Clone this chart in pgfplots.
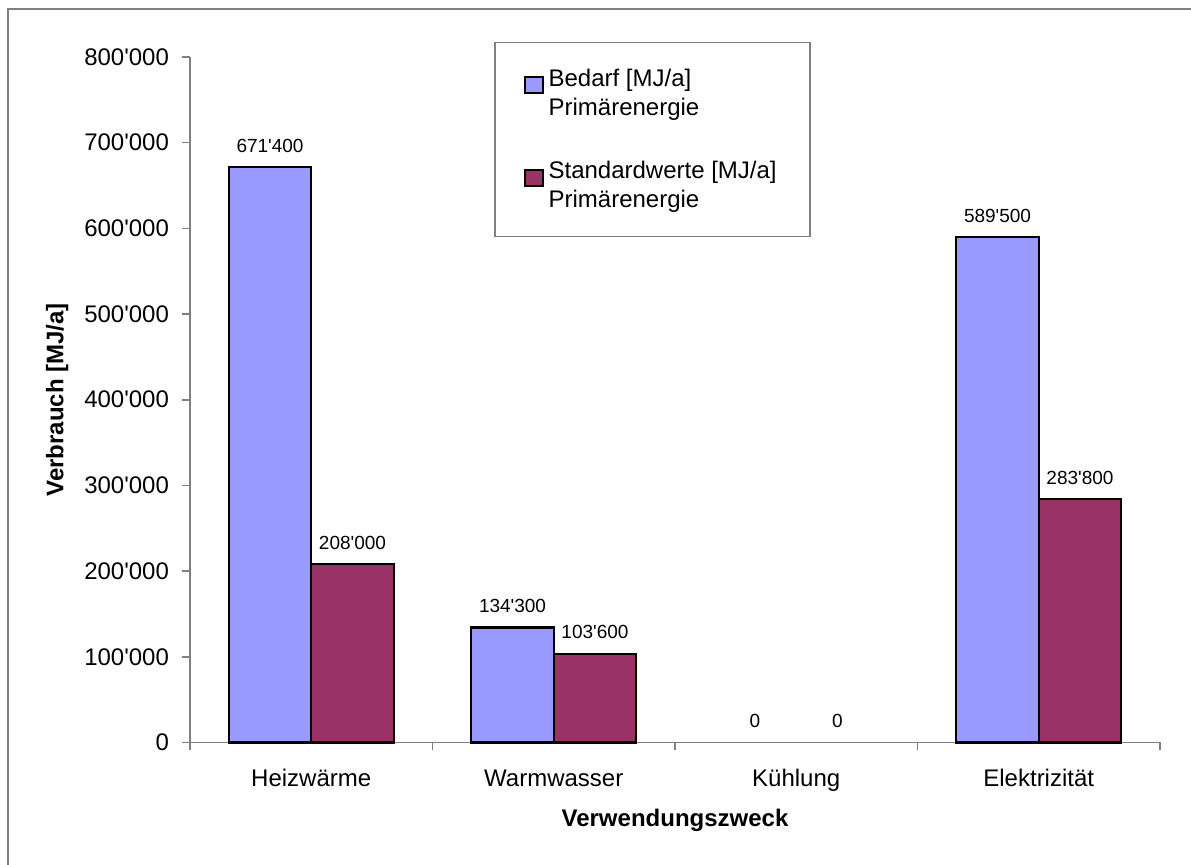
\documentclass[border=0pt]{standalone}
\usepackage{pgfplots}
\pgfplotsset{compat=1.18}
\usepackage{fontspec}
\setmainfont{Liberation Sans}[Ligatures=TeXOff]
\definecolor{bedarf}{HTML}{9999FF}
\definecolor{standard}{HTML}{993366}
\definecolor{axisgray}{HTML}{808080}

\pgfplotstableread{
x bedarf standard
0 671400 208000
1 134300 103600
3 589500 283800
}\datatable
\pgfplotstableread{
x bedarf standard
2 0 0
}\zerotable

\begin{document}
\begin{tikzpicture}
\path[use as bounding box, fill=white] (0,0) rectangle (595.5pt,432.5pt);
\draw[axisgray, line width=1pt] (4pt,0) -- (4pt,428pt) -- (595.5pt,428pt);
\begin{axis}[
  at={(95pt,61.25pt)}, anchor=south west,
  scale only axis, width=485pt, height=342.75pt,
  xmin=-0.5, xmax=3.5, ymin=0, ymax=800000,
  axis x line=bottom, axis y line=left,
  axis line style={-, draw=axisgray, line width=0.8pt},
  tick align=outside,
  major tick length=4pt,
  tick style={draw=axisgray, line width=0.8pt},
  ytick={0,100000,200000,300000,400000,500000,600000,700000,800000},
  scaled y ticks=false,
  /pgf/number format/.cd, fixed, 1000 sep={'}, assume math mode=true, /pgfplots/.cd,
  xtick={-0.5,0.5,1.5,2.5,3.5}, xticklabels={},
  extra x ticks={0,1,2,3},
  extra x tick labels={Heizwärme,Warmwasser,Kühlung,Elektrizität},
  extra x tick style={major tick length=0pt, tick style={draw=none},
     xticklabel style={yshift=-10pt}},
  ticklabel style={font=\fontsize{12}{14}\selectfont, text=black},
  yticklabel style={xshift=-3pt},
  ylabel={Verbrauch [MJ/a]}, xlabel={Verwendungszweck},
  label style={font=\bfseries\fontsize{12}{14}\selectfont},
  ylabel style={at={(axis description cs:-0.137,0.5)}, anchor=center},
  xlabel style={at={(axis description cs:0.5,-0.113)}, anchor=center},
  ybar, bar width=0.34,
  nodes near coords,
  nodes near coords style={font=\fontsize{9.5}{11}\selectfont, anchor=center, yshift=10.75pt, text=black},
  legend style={at={(0.3134,1.022)}, anchor=north west, draw=axisgray, line width=0.8pt,
     font=\fontsize{12}{14.5}\selectfont, cells={anchor=west, align=left},
     row sep=17.5pt, column sep=0.5pt, inner xsep=14.5pt, inner ysep=11pt},
  legend image code/.code={\draw[#1, draw=black, line width=0.9pt] (0pt,0pt) rectangle (9pt,8pt);},
  clip=false,
]
\addplot[fill=bedarf, draw=black, line width=1.1pt, bar shift=-0.17] table[x=x, y=bedarf] {\datatable};
\addlegendentry{Bedarf [MJ/a]\\Primärenergie}
\addplot[fill=standard, draw=black, line width=1.1pt, bar shift=0.17] table[x=x, y=standard] {\datatable};
\addlegendentry{Standardwerte [MJ/a]\\Primärenergie}
\addplot[draw=none, fill=none, bar shift=-0.17, forget plot] table[x=x, y=bedarf] {\zerotable};
\addplot[draw=none, fill=none, bar shift=0.17, forget plot] table[x=x, y=standard] {\zerotable};
\end{axis}
\end{tikzpicture}
\end{document}
